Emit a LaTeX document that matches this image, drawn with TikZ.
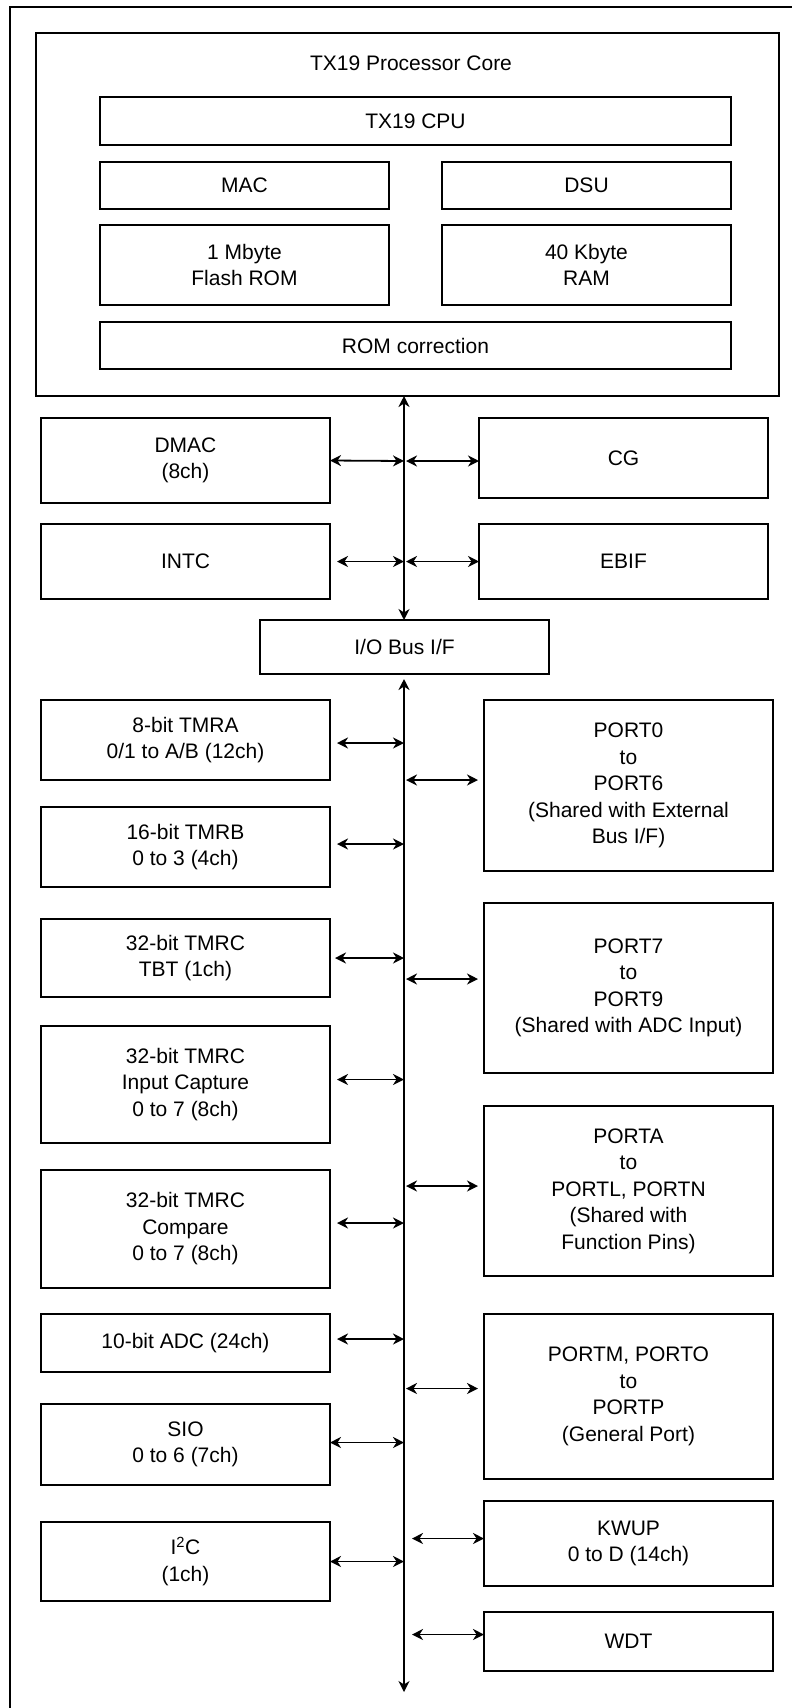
\documentclass[tikz,border=0pt]{standalone}
\usepackage{fontspec}
\setmainfont{Liberation Sans}
\usetikzlibrary{arrows.meta,positioning}

\begin{document}
\begin{tikzpicture}[x=1pt,y=-1pt,
    font=\fontsize{21}{26.5}\selectfont,
    >={Stealth[length=11pt,width=11pt,inset=3.5pt]},
    blk/.style={draw, line width=1.6pt, align=center, inner sep=0pt, outer sep=0pt, minimum width=289pt},
    wide/.style={blk, minimum width=631pt}]
  \useasboundingbox (0,0) rectangle (792,1708);
  \clip (0,0) rectangle (792,1708);
  % chip frame, runs off the page on the right and bottom
  \draw[line width=2pt] (10,6.5) rectangle (806,1722);

  % processor core
  \node[blk, minimum width=743pt, minimum height=363pt] (core) at (407.5,214.5) {};
  \node (coretitle) at (411,63) {TX19 Processor Core};
  \node[wide, minimum height=48pt] (cpu) at (415.5,121) {TX19 CPU};
  \node[blk, minimum height=47pt] (mac) at (244.5,185.5) {MAC};
  \node[blk, minimum height=47pt] (dsu) at (586.5,185.5) {DSU};
  \node[blk, minimum height=80pt] (flash) at (244.5,265) {1 Mbyte\\Flash ROM};
  \node[blk, minimum height=80pt] (ram) at (586.5,265) {40 Kbyte\\RAM};
  \node[wide, minimum height=47pt] (romcorr) at (415.5,345.5) {ROM correction};

  % blocks on the system bus
  \node[blk, minimum height=85pt] (dmac) at (185.5,460.5) {DMAC\\(8ch)};
  \node[blk, minimum height=80pt] (cg) at (623.5,458) {CG};
  \node[blk, minimum height=75pt] (intc) at (185.5,561.5) {INTC};
  \node[blk, minimum height=75pt] (ebif) at (623.5,561.5) {EBIF};
  \node[blk, minimum height=54pt] (iobus) at (404.5,647) {I/O Bus I/F};

  % peripherals, left column
  \node[blk, minimum height=80pt] (tmra) at (185.5,740) {8-bit TMRA\\0/1 to A/B (12ch)};
  \node[blk, minimum height=80pt] (tmrb) [below=27pt of tmra] {16-bit TMRB\\0 to 3 (4ch)};
  \node[blk, minimum height=78pt] (tbt) [below=32pt of tmrb] {32-bit TMRC\\TBT (1ch)};
  \node[blk, minimum height=117pt] (incap) [below=29pt of tbt] {32-bit TMRC\\Input Capture\\0 to 7 (8ch)};
  \node[blk, minimum height=118pt] (cmp) [below=27pt of incap] {32-bit TMRC\\Compare\\0 to 7 (8ch)};
  \node[blk, minimum height=58pt] (adc) [below=26pt of cmp] {10-bit ADC (24ch)};
  \node[blk, minimum height=81pt] (sio) [below=32pt of adc] {SIO\\0 to 6 (7ch)};
  \node[blk, minimum height=79pt] (iic) [below=37pt of sio] {I\textsuperscript{2}C\\(1ch)};

  % peripherals, right column
  \node[blk, minimum height=171pt] (port0) at (628.5,785.5) {PORT0\\to\\PORT6\\(Shared with External\\Bus I/F)};
  \node[blk, minimum height=170pt] (port7) [below=32pt of port0] {PORT7\\to\\PORT9\\(Shared with ADC Input)};
  \node[blk, minimum height=170pt] (porta) [below=33pt of port7] {PORTA\\to\\PORTL, PORTN\\(Shared with\\Function Pins)};
  \node[blk, minimum height=165pt] (portm) [below=38pt of porta] {PORTM, PORTO\\to\\PORTP\\(General Port)};
  \node[blk, minimum height=85pt] (kwup) [below=22pt of portm] {KWUP\\0 to D (14ch)};
  \node[blk, minimum height=59pt] (wdt) [below=26pt of kwup] {WDT};

  \coordinate (bus) at (404,0);
  \coordinate (busend) at (404,1692);

  \begin{scope}[every edge/.style={draw, line width=1.8pt, <->}]
    % internal bus
    \path (core.south -| bus) edge (iobus.north -| bus);
    \path (dmac.east) edge ([yshift=-0.5pt]dmac.east -| bus);
    \path ([shift={(2pt,-0.5pt)}]bus |- dmac.east) edge ([yshift=-0.5pt]cg.west |- dmac.east);
    \path ([xshift=7pt]intc.east) edge (intc.east -| bus);
    \path ([xshift=2pt]bus |- ebif.west) edge (ebif.west);
    % I/O bus
    \path ([yshift=-5pt]iobus.south -| bus) edge (busend);
    \path ([shift={(7pt,-3pt)}]tmra.east) edge ([yshift=-3pt]tmra.east -| bus);
    \path ([shift={(7pt,3pt)}]tmrb.east) edge ([yshift=3pt]tmrb.east -| bus);
    \path ([xshift=5pt]tbt.east) edge (tbt.east -| bus);
    \path ([shift={(7pt,5pt)}]incap.east) edge ([yshift=5pt]incap.east -| bus);
    \path ([shift={(7pt,6pt)}]cmp.east) edge ([yshift=6pt]cmp.east -| bus);
    \path ([shift={(7pt,4pt)}]adc.east) edge ([yshift=4pt]adc.east -| bus);
    \path ([yshift=2pt]sio.east) edge ([yshift=2pt]sio.east -| bus);
    \path (iic.east) edge (iic.east -| bus);
    \path ([shift={(2pt,5.5pt)}]bus |- port0.west) edge ([shift={(-6pt,5.5pt)}]port0.west);
    \path ([shift={(2pt,9pt)}]bus |- port7.west) edge ([shift={(-6pt,9pt)}]port7.west);
    \path ([shift={(2pt,5pt)}]bus |- porta.west) edge ([shift={(-6pt,5pt)}]porta.west);
    \path ([shift={(2pt,8pt)}]bus |- portm.west) edge ([shift={(-6pt,8pt)}]portm.west);
    \path ([shift={(8pt,5pt)}]bus |- kwup.west) edge ([yshift=5pt]kwup.west);
    \path ([shift={(8pt,7pt)}]bus |- wdt.west) edge ([yshift=7pt]wdt.west);
  \end{scope}
\end{tikzpicture}
\end{document}
